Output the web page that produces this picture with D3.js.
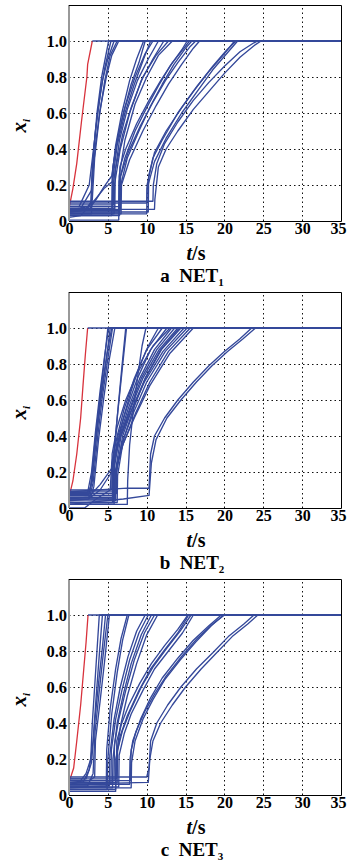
<!DOCTYPE html>
<html><head><meta charset="utf-8">
<script src="https://cdn.jsdelivr.net/npm/d3@7"></script>
<style>body{margin:0;background:#fff}svg{display:block}</style>
</head><body>
<svg id="c" width="347" height="864"></svg>
<script>
const xTicks = [0,5,10,15,20,25,30,35];
const xTickLabels = ["0","5","10","15","20","25","30","35"];
const yTicks = [0,0.2,0.4,0.6,0.8,1.0];
const yTickLabels = ["0","0.2","0.4","0.6","0.8","1.0"];
const panelLetters = ["a","b","c"];
const panelSubs = ["1","2","3"];

// ---- NET1 ----
const net1Red = [[0,0.07],[0.5,0.18],[1,0.32],[1.6,0.55],[2.3,0.8],[2.4,0.87],[3,1]];
const net1Tail = [[3,1],[35,1]];
const net1Blue = [
 [[0,0.07],[1.5,0.07],[2.2,0.12],[2.9,0.17],[3.2,0.4],[3.6,0.6],[4.2,0.8],[5.1,1],[35,1]],
 [[0,0.05],[2,0.06],[2.8,0.1],[3.0,0.3],[3.4,0.5],[4,0.7],[4.6,0.85],[5.4,1],[35,1]],
 [[0,0.08],[1.3,0.08],[2.6,0.2],[3.1,0.38],[3.7,0.6],[4.3,0.78],[5.0,0.9],[5.8,1],[35,1]],
 [[0,0.04],[2.9,0.04],[2.95,0.2],[3.4,0.42],[4.0,0.62],[4.8,0.8],[5.5,0.92],[6.4,1],[35,1]],
 [[0,0.06],[2.5,0.08],[3.0,0.12],[3.3,0.35],[3.9,0.58],[4.6,0.78],[5.3,0.92],[6.2,1],[35,1]],
 [[0,0.05],[2.5,0.06],[3.5,0.12],[4.5,0.19],[5.5,0.25],[6,0.4],[7,0.6],[8,0.76],[9,0.88],[9.8,1],[35,1]],
 [[0,0.02],[1.5,0.03],[3,0.1],[4.5,0.18],[5.6,0.22],[6.2,0.42],[7.2,0.6],[8.4,0.76],[9.6,0.9],[10.5,1],[35,1]],
 [[0,0.03],[5.5,0.03],[5.55,0.25],[6,0.42],[6.8,0.6],[7.8,0.78],[8.7,0.9],[9.6,1],[35,1]],
 [[0,0.06],[5.6,0.06],[5.65,0.3],[6.3,0.47],[7.2,0.63],[8.5,0.8],[9.8,0.93],[10.8,1],[35,1]],
 [[0,0.09],[5.7,0.09],[5.75,0.22],[6.5,0.45],[7.5,0.62],[8.8,0.78],[10.2,0.9],[11.5,1],[35,1]],
 [[0,0.04],[5.8,0.04],[5.85,0.2],[6.6,0.4],[7.8,0.6],[9.3,0.78],[10.8,0.9],[12.2,1],[35,1]],
 [[0,0.07],[5.9,0.07],[5.95,0.28],[6.9,0.48],[8,0.63],[9.5,0.8],[11.2,0.92],[12.8,1],[35,1]],
 [[0,0.005],[6.4,0.005],[6.45,0.25],[7.2,0.45],[8.5,0.65],[10,0.8],[11.5,0.92],[13.3,1],[35,1]],
 [[0,0.05],[6.4,0.05],[6.45,0.22],[7.2,0.35],[8.5,0.5],[10,0.63],[11.5,0.75],[13,0.86],[14.5,0.95],[15.2,1],[35,1]],
 [[0,0.03],[6.5,0.03],[6.55,0.18],[7.5,0.35],[9,0.5],[10.5,0.64],[12,0.76],[13.5,0.87],[15,0.96],[15.8,1],[35,1]],
 [[0,0.06],[6.6,0.06],[6.65,0.25],[7.6,0.38],[9.2,0.53],[10.8,0.66],[12.4,0.78],[14,0.88],[15.6,0.97],[16.3,1],[35,1]],
 [[0,0.04],[6.7,0.04],[6.75,0.2],[7.8,0.34],[9.5,0.5],[11.2,0.64],[12.8,0.76],[14.5,0.87],[16,0.96],[16.8,1],[35,1]],
 [[0,0.08],[6.5,0.08],[6.55,0.3],[7.3,0.4],[8.7,0.54],[10.3,0.67],[11.8,0.78],[13.3,0.88],[14.8,0.96],[15.5,1],[35,1]],
 [[0,0.1],[10,0.1],[10.05,0.2],[10.8,0.35],[12,0.45],[14,0.6],[16,0.72],[18,0.83],[20,0.93],[21.3,1],[35,1]],
 [[0,0.05],[10.2,0.05],[10.25,0.25],[11,0.38],[12.5,0.5],[14.5,0.63],[16.5,0.75],[18.5,0.86],[20.3,0.95],[21.5,1],[35,1]],
 [[0,0.04],[10,0.04],[10.05,0.18],[11,0.33],[12.5,0.46],[14.5,0.6],[16.5,0.72],[18.5,0.84],[20.5,0.94],[21.7,1],[35,1]],
 [[0,0.065],[11,0.065],[11.05,0.12],[11.5,0.3],[12.5,0.4],[14,0.5],[16,0.62],[18,0.72],[20,0.82],[22,0.91],[24,0.98],[24.7,1],[35,1]],
 [[0,0.11],[10.8,0.11],[10.85,0.2],[11.3,0.32],[12.3,0.43],[14,0.55],[16,0.67],[18,0.77],[20,0.86],[22,0.94],[23.8,0.99],[24.3,1],[35,1]]
];

// ---- NET2 ----
const net2Red = [[0,0.06],[0.5,0.15],[1,0.3],[1.5,0.5],[1.8,0.68],[2.1,0.85],[2.4,1]];
const net2Tail = [[2.4,1],[35,1]];
const net2Blue = [
 [[0,0.08],[2.5,0.08],[2.8,0.12],[3.3,0.35],[3.9,0.58],[4.5,0.8],[5,1],[35,1]],
 [[0,0.09],[2.6,0.09],[3.0,0.15],[3.5,0.38],[4.1,0.6],[4.8,0.82],[5.3,1],[35,1]],
 [[0,0.07],[2.7,0.07],[3.1,0.14],[3.7,0.4],[4.3,0.62],[5,0.83],[5.6,1],[35,1]],
 [[0,0.06],[2.8,0.06],[3.2,0.12],[3.8,0.38],[4.5,0.62],[5.2,0.83],[5.9,1],[35,1]],
 [[0,0.085],[2.4,0.085],[2.9,0.2],[3.4,0.42],[4,0.65],[4.6,0.85],[5.1,1],[35,1]],
 [[0,0.075],[2.6,0.075],[3.0,0.18],[3.6,0.44],[4.2,0.66],[4.9,0.86],[5.5,1],[35,1]],
 [[0,0.04],[2.5,0.05],[4,0.1],[5.5,0.2],[5.8,0.3],[6.3,0.55],[6.8,0.78],[7.3,1],[35,1]],
 [[0,0.03],[5.6,0.03],[5.7,0.28],[6.2,0.5],[6.8,0.75],[7.4,1],[35,1]],
 [[0,0.02],[7.5,0.02],[7.55,0.15],[7.8,0.35],[8.3,0.55],[8.9,0.75],[9.4,0.9],[9.9,1],[35,1]],
 [[0,0.05],[2.5,0.06],[4,0.13],[5.5,0.22],[6.2,0.35],[7,0.5],[8,0.65],[9,0.78],[10.2,0.9],[11.5,1],[35,1]],
 [[0,0.0],[2,0.0],[3.5,0.05],[5.3,0.1],[5.5,0.25],[6.2,0.4],[7.1,0.55],[8.4,0.72],[10,0.88],[12,1],[35,1]],
 [[0,0.05],[5.6,0.05],[5.65,0.22],[6.3,0.4],[7.4,0.55],[8.8,0.72],[10.5,0.88],[12.6,1],[35,1]],
 [[0,0.03],[5.7,0.03],[5.75,0.2],[6.5,0.4],[7.6,0.55],[9.1,0.72],[11,0.88],[13.2,1],[35,1]],
 [[0,0.09],[5.8,0.09],[5.85,0.28],[6.6,0.4],[7.8,0.55],[9.3,0.72],[11.3,0.88],[13.6,1],[35,1]],
 [[0,0.06],[5.9,0.06],[5.95,0.2],[6.7,0.4],[7.9,0.55],[9.5,0.72],[11.6,0.88],[14,1],[35,1]],
 [[0,0.04],[6.0,0.04],[6.05,0.18],[6.9,0.4],[8.1,0.55],[9.8,0.72],[11.9,0.88],[14.4,1],[35,1]],
 [[0,0.07],[5.6,0.07],[5.65,0.22],[6.5,0.38],[7.9,0.53],[9.7,0.7],[12.1,0.87],[14.8,1],[35,1]],
 [[0,0.02],[5.8,0.02],[5.85,0.15],[6.8,0.36],[8.2,0.52],[10,0.7],[12.4,0.87],[15.2,1],[35,1]],
 [[0,0.08],[6.1,0.08],[6.15,0.24],[7,0.36],[8.5,0.52],[10.4,0.7],[12.8,0.87],[15.6,1],[35,1]],
 [[0,0.05],[5.9,0.05],[5.95,0.2],[6.9,0.35],[8.4,0.5],[10.4,0.68],[13,0.86],[16,1],[35,1]],
 [[0,0.1],[5.5,0.1],[5.55,0.3],[6.2,0.45],[7.3,0.6],[8.8,0.75],[10.8,0.9],[13,1],[35,1]],
 [[0,0.03],[6.2,0.03],[6.25,0.18],[7,0.38],[8.2,0.54],[9.8,0.72],[11.8,0.88],[14.2,1],[35,1]],
 [[0,0.09],[7.5,0.11],[10.3,0.11],[10.5,0.3],[11,0.4],[12.3,0.5],[14,0.6],[16,0.7],[18,0.79],[20,0.87],[22,0.94],[23.5,1],[35,1]],
 [[0,0.02],[7,0.05],[10.3,0.07],[10.6,0.25],[11.2,0.38],[12.6,0.5],[14.4,0.6],[16.4,0.7],[18.4,0.79],[20.4,0.87],[22.4,0.94],[24,1],[35,1]]
];

// ---- NET3 ----
const net3Red = [[0,0.07],[0.6,0.15],[1,0.3],[1.5,0.5],[1.9,0.7],[2.2,0.85],[2.45,1]];
const net3Tail = [[2.45,1],[35,1]];
const net3Blue = [
 [[0,0.08],[1.5,0.08],[2.2,0.12],[2.8,0.2],[3.0,0.4],[3.3,0.6],[3.6,0.8],[3.9,1],[35,1]],
 [[0,0.06],[1.8,0.07],[2.6,0.14],[3.1,0.3],[3.5,0.55],[3.9,0.78],[4.3,1],[35,1]],
 [[0,0.09],[2.2,0.09],[2.9,0.18],[3.3,0.4],[3.8,0.62],[4.3,0.82],[4.7,1],[35,1]],
 [[0,0.05],[2.4,0.05],[3.1,0.12],[3.35,0.35],[3.9,0.58],[4.4,0.78],[5.0,1],[35,1]],
 [[0,0.07],[2.6,0.08],[3.3,0.1],[3.4,0.3],[4.0,0.52],[4.6,0.75],[5.2,1],[35,1]],
 [[0,0.04],[4.8,0.05],[4.85,0.25],[5.3,0.48],[6,0.7],[6.7,0.87],[7.5,1],[35,1]],
 [[0,0.03],[4.9,0.03],[5,0.2],[5.5,0.45],[6.2,0.68],[6.9,0.86],[7.7,1],[35,1]],
 [[0,0.06],[5.4,0.06],[5.45,0.25],[6,0.42],[6.8,0.58],[7.8,0.75],[9,0.9],[10.2,1],[35,1]],
 [[0,0.04],[5.6,0.04],[5.65,0.2],[6.2,0.4],[7,0.56],[8,0.73],[9.3,0.89],[10.6,1],[35,1]],
 [[0,0.08],[5.8,0.08],[5.85,0.28],[6.4,0.42],[7.3,0.58],[8.4,0.75],[9.7,0.9],[11,1],[35,1]],
 [[0,0.02],[6,0.02],[6.05,0.2],[6.6,0.38],[7.5,0.55],[8.7,0.73],[10,0.89],[11.4,1],[35,1]],
 [[0,0.05],[5.2,0.05],[5.25,0.22],[5.8,0.42],[6.6,0.6],[7.6,0.77],[8.7,0.91],[9.8,1],[35,1]],
 [[0,0.03],[6,0.03],[6.05,0.2],[6.6,0.33],[7.5,0.44],[9,0.58],[10.5,0.7],[12.2,0.8],[14,0.9],[15.4,1],[35,1]],
 [[0,0.07],[6.2,0.07],[6.25,0.25],[6.9,0.36],[7.8,0.46],[9.3,0.6],[10.8,0.71],[12.5,0.81],[14.3,0.91],[15.7,1],[35,1]],
 [[0,0.045],[6.4,0.045],[6.45,0.22],[7.1,0.34],[8,0.45],[9.5,0.58],[11,0.7],[12.8,0.8],[14.6,0.9],[16,1],[35,1]],
 [[0,0.09],[6.1,0.09],[6.15,0.3],[6.8,0.4],[7.7,0.5],[9.1,0.62],[10.6,0.73],[12.3,0.83],[14,0.92],[15.3,1],[35,1]],
 [[0,0.06],[7.8,0.06],[7.85,0.2],[8.2,0.3],[9.2,0.42],[10.5,0.54],[12,0.65],[14,0.76],[16,0.86],[18,0.94],[19.6,1],[35,1]],
 [[0,0.04],[8,0.04],[8.05,0.18],[8.5,0.3],[9.5,0.42],[10.8,0.53],[12.3,0.64],[14.3,0.75],[16.3,0.85],[18.3,0.94],[19.9,1],[35,1]],
 [[0,0.08],[7.9,0.08],[8,0.25],[8.6,0.35],[9.7,0.46],[11,0.56],[12.5,0.66],[14.5,0.77],[16.5,0.87],[18.5,0.95],[20,1],[35,1]],
 [[0,0.1],[10,0.1],[10.3,0.15],[10.5,0.3],[11.3,0.4],[12.7,0.5],[14.4,0.6],[16.4,0.7],[18.5,0.79],[20.5,0.88],[22.5,0.95],[23.8,1],[35,1]],
 [[0,0.06],[10.2,0.07],[10.4,0.2],[10.8,0.3],[11.8,0.4],[13.3,0.5],[15,0.6],[17,0.7],[19,0.79],[21,0.88],[23,0.95],[24.3,1],[35,1]]
];

const panelsRed = [net1Red, net2Red, net3Red];
const panelsTail = [net1Tail, net2Tail, net3Tail];
const panelsBlue = [net1Blue, net2Blue, net3Blue];

const svg = d3.select("#c");
const L = 69, R = 341, H = 216;
const bottoms = [221, 508, 795];
const serif = "'Liberation Serif','Times New Roman',serif";

bottoms.forEach((b, i) => {
  const x = d3.scaleLinear().domain([0,35]).range([L,R]);
  const y = d3.scaleLinear().domain([0,1.2]).range([b, b-H]);
  const g = svg.append("g");
  const cid = "clip"+i;
  g.append("clipPath").attr("id",cid).append("rect")
    .attr("x",L).attr("y",b-H).attr("width",R-L).attr("height",H);

  // grid
  const grid = g.append("g").attr("stroke","#111").attr("stroke-width",1)
    .attr("stroke-dasharray","1.5,3");
  grid.selectAll(".vg").data(xTicks.filter(t=>t>0&&t<35)).join("line")
    .attr("x1",d=>Math.round(x(d))+0.5).attr("x2",d=>Math.round(x(d))+0.5)
    .attr("y1",b).attr("y2",b-H);
  grid.selectAll(".hg").data(yTicks.filter(t=>t>0)).join("line")
    .attr("y1",d=>Math.round(y(d))+0.5).attr("y2",d=>Math.round(y(d))+0.5)
    .attr("x1",L).attr("x2",R);

  const line = d3.line().x(d=>x(d[0])).y(d=>y(d[1]));
  const curves = g.append("g").attr("clip-path",`url(#${cid})`).attr("fill","none");
  curves.append("path").datum(panelsRed[i]).attr("d",line)
    .attr("stroke","#d8323c").attr("stroke-width",1.3);
  curves.selectAll(".blue").data(panelsBlue[i].concat([panelsTail[i]])).join("path")
    .attr("d",line).attr("stroke","#34489a").attr("stroke-width",1.35)
    .attr("stroke-linejoin","round");

  // frame
  g.append("line").attr("x1",L).attr("x2",L).attr("y1",b-H).attr("y2",b)
    .attr("stroke","#999").attr("stroke-width",2);
  g.append("path").attr("d",`M${L},${b-H+0.5}H${R+0.5}V${b+0.5}H${L}`)
    .attr("fill","none").attr("stroke","#000").attr("stroke-width",1);

  // axes via d3
  const xa = g.append("g").attr("transform",`translate(0,${b})`)
    .call(d3.axisBottom(x).tickValues(xTicks).tickFormat((d,j)=>xTickLabels[j]).tickSize(0).tickPadding(2));
  xa.select(".domain").remove();
  xa.selectAll("text").attr("font-family",serif).attr("font-weight","bold")
    .attr("font-size",16).attr("fill","#000");
  xa.selectAll(".tick").filter(d=>d===35).select("text")
    .attr("text-anchor","end").attr("x",346-R);
  const ya = g.append("g").attr("transform",`translate(${L},0)`)
    .call(d3.axisLeft(y).tickValues(yTicks).tickFormat((d,j)=>yTickLabels[j]).tickSize(0).tickPadding(2));
  ya.select(".domain").remove();
  ya.selectAll("text").attr("font-family",serif).attr("font-weight","bold")
    .attr("font-size",16.5).attr("fill","#000");

  // y label x_i
  const yl = g.append("text").attr("transform",`translate(26,${y(0.53)}) rotate(-90)`)
    .attr("text-anchor","middle").attr("font-family",serif).attr("font-style","italic")
    .attr("font-weight","bold").attr("font-size",21);
  yl.append("tspan").text("x");
  yl.append("tspan").attr("dy",4).attr("font-size",11).text("i");

  // x label t/s
  const xl = g.append("text").attr("x",196).attr("y",b+39).attr("text-anchor","middle")
    .attr("font-family",serif).attr("font-weight","bold").attr("font-size",20);
  xl.append("tspan").attr("font-style","italic").text("t");
  xl.append("tspan").text("/s");

  // caption
  const cap = g.append("text").attr("x",192).attr("y",b+61).attr("text-anchor","middle")
    .attr("font-family",serif).attr("font-weight","bold").attr("font-size",19);
  cap.append("tspan").text(panelLetters[i] + "\u00a0\u00a0NET");
  cap.append("tspan").attr("dy",4).attr("font-size",11).text(panelSubs[i]);
});
</script>
</body></html>
